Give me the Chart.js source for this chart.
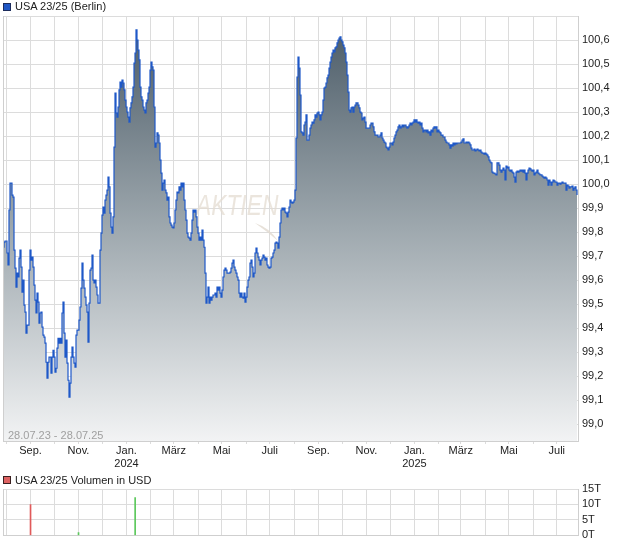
<!DOCTYPE html>
<html>
<head>
<meta charset="utf-8">
<script src="https://cdn.jsdelivr.net/npm/chart.js@4.4.1/dist/chart.umd.min.js"></script>
<style>
  body { margin: 0; background: #fff; }
  #wrap { position: relative; width: 620px; height: 546px; font-family: "Liberation Sans", Arial, sans-serif; }
  #wrap canvas { position: absolute; left: 0; }
  .txt { position: absolute; font-size: 11px; line-height: 13px; color: #222; white-space: nowrap; }
  .box { position: absolute; left: 3px; width: 6px; height: 6px; border: 1px solid #1c2c5c; }
</style>
</head>
<body>
<div id="wrap">
  <canvas id="price" width="620" height="470" style="top:0"></canvas>
  <canvas id="volume" width="620" height="76" style="top:470px"></canvas>
  <div class="box" style="top:3px;background:#1f56c4"></div>
  <div class="txt" style="left:15px;top:0">USA 23/25 (Berlin)</div>
  <div class="txt" style="left:8px;top:429px;color:#a0a0a0">28.07.23 - 28.07.25</div>
  <div class="box" style="top:476px;background:#de6262;border-color:#3a2020"></div>
  <div class="txt" style="left:15px;top:474px">USA 23/25 Volumen in USD</div>
</div>
<script>
const startDate = '2023-07-28';
const endDate = '2025-07-28';

// closing prices, evenly spaced over the period
const prices = [
  99.737, 99.758, 99.763, 99.763, 99.713, 99.663, 99.892, 100.004, 100.004, 99.954,
  99.946, 99.725, 99.650, 99.571, 99.629, 99.613, 99.692, 99.725, 99.654, 99.550,
  99.600, 99.496, 99.467, 99.379, 99.413, 99.413, 99.642, 99.725, 99.683, 99.696,
  99.654, 99.579, 99.517, 99.463, 99.546, 99.508, 99.421, 99.463, 99.467, 99.404,
  99.371, 99.363, 99.338, 99.258, 99.192, 99.258, 99.279, 99.279, 99.213, 99.279,
  99.308, 99.279, 99.217, 99.233, 99.317, 99.358, 99.338, 99.358, 99.338, 99.463,
  99.508, 99.379, 99.279, 99.350, 99.254, 99.183, 99.113, 99.171, 99.279, 99.321,
  99.279, 99.254, 99.238, 99.371, 99.392, 99.392, 99.433, 99.488, 99.567, 99.671,
  99.600, 99.567, 99.529, 99.496, 99.467, 99.342, 99.504, 99.642, 99.650, 99.704,
  99.600, 99.588, 99.600, 99.571, 99.538, 99.504, 99.504, 99.725, 99.796, 99.871,
  99.904, 99.879, 99.933, 99.954, 99.975, 100.029, 99.988, 99.879, 99.821, 99.796,
  99.863, 100.154, 100.379, 100.296, 100.279, 100.321, 100.392, 100.425, 100.404, 100.433,
  100.421, 100.392, 100.350, 100.321, 100.300, 100.279, 100.258, 100.317, 100.338, 100.363,
  100.404, 100.504, 100.546, 100.642, 100.600, 100.558, 100.517, 100.404, 100.363, 100.350,
  100.321, 100.308, 100.296, 100.338, 100.350, 100.379, 100.404, 100.475, 100.508, 100.488,
  100.475, 100.321, 100.154, 100.171, 100.213, 100.204, 100.171, 100.100, 100.046, 99.975,
  100.004, 100.017, 99.975, 99.963, 99.933, 99.946, 99.863, 99.838, 99.829, 99.821,
  99.817, 99.838, 99.892, 99.933, 99.967, 99.963, 99.988, 99.975, 100.004, 99.988,
  100.004, 99.933, 99.892, 99.850, 99.796, 99.779, 99.775, 99.767, 99.796, 99.850,
  99.892, 99.883, 99.892, 99.863, 99.821, 99.796, 99.767, 99.779, 99.767, 99.808,
  99.767, 99.737, 99.629, 99.504, 99.529, 99.571, 99.504, 99.529, 99.517, 99.529,
  99.538, 99.538, 99.546, 99.529, 99.571, 99.558, 99.571, 99.546, 99.529, 99.558,
  99.613, 99.642, 99.650, 99.642, 99.629, 99.629, 99.629, 99.633, 99.650, 99.671,
  99.683, 99.654, 99.642, 99.629, 99.613, 99.600, 99.546, 99.529, 99.546, 99.529,
  99.525, 99.546, 99.508, 99.529, 99.571, 99.600, 99.613, 99.671, 99.683, 99.654,
  99.613, 99.629, 99.713, 99.733, 99.713, 99.696, 99.683, 99.663, 99.683, 99.692,
  99.704, 99.696, 99.683, 99.692, 99.663, 99.654, 99.650, 99.654, 99.692, 99.696,
  99.713, 99.725, 99.754, 99.758, 99.754, 99.733, 99.779, 99.838, 99.892, 99.900,
  99.892, 99.900, 99.883, 99.879, 99.863, 99.883, 99.904, 99.933, 99.925, 99.921,
  99.925, 99.933, 99.975, 100.192, 100.446, 100.529, 100.483, 100.371, 100.217, 100.213,
  100.204, 100.246, 100.258, 100.288, 100.183, 100.183, 100.204, 100.233, 100.246, 100.258,
  100.254, 100.267, 100.288, 100.279, 100.296, 100.300, 100.288, 100.267, 100.288, 100.300,
  100.350, 100.400, 100.404, 100.421, 100.442, 100.454, 100.483, 100.508, 100.529, 100.546,
  100.558, 100.550, 100.567, 100.571, 100.588, 100.600, 100.608, 100.613, 100.600, 100.592,
  100.579, 100.567, 100.546, 100.508, 100.454, 100.383, 100.308, 100.300, 100.317, 100.321,
  100.300, 100.321, 100.329, 100.338, 100.338, 100.329, 100.317, 100.300, 100.296, 100.267,
  100.275, 100.279, 100.258, 100.233, 100.233, 100.233, 100.233, 100.246, 100.254, 100.254,
  100.238, 100.217, 100.204, 100.204, 100.204, 100.196, 100.196, 100.204, 100.213, 100.192,
  100.183, 100.175, 100.171, 100.154, 100.150, 100.142, 100.154, 100.171, 100.171, 100.163,
  100.175, 100.192, 100.204, 100.217, 100.225, 100.238, 100.246, 100.233, 100.238, 100.246,
  100.238, 100.246, 100.246, 100.238, 100.233, 100.238, 100.246, 100.254, 100.246, 100.254,
  100.258, 100.267, 100.258, 100.267, 100.258, 100.254, 100.258, 100.246, 100.254, 100.233,
  100.217, 100.225, 100.225, 100.217, 100.225, 100.213, 100.217, 100.204, 100.225, 100.217,
  100.233, 100.238, 100.233, 100.238, 100.217, 100.225, 100.217, 100.213, 100.204, 100.204,
  100.196, 100.196, 100.183, 100.175, 100.171, 100.171, 100.163, 100.150, 100.163, 100.158,
  100.171, 100.163, 100.171, 100.167, 100.171, 100.171, 100.171, 100.171, 100.175, 100.183,
  100.188, 100.171, 100.171, 100.175, 100.171, 100.175, 100.171, 100.163, 100.150, 100.142,
  100.142, 100.146, 100.138, 100.142, 100.146, 100.142, 100.138, 100.142, 100.133, 100.129,
  100.129, 100.125, 100.129, 100.125, 100.121, 100.113, 100.100, 100.092, 100.088, 100.050,
  100.046, 100.046, 100.042, 100.038, 100.088, 100.088, 100.079, 100.058, 100.050, 100.058,
  100.067, 100.058, 100.017, 100.075, 100.067, 100.071, 100.058, 100.054, 100.058, 100.050,
  100.046, 100.029, 100.008, 100.050, 100.054, 100.050, 100.054, 100.058, 100.054, 100.058,
  100.050, 100.058, 100.046, 100.017, 100.046, 100.058, 100.067, 100.063, 100.058, 100.054,
  100.058, 100.038, 100.046, 100.050, 100.058, 100.046, 100.042, 100.038, 100.038, 100.033,
  100.029, 100.025, 100.029, 100.025, 100.017, 99.996, 100.017, 100.008, 99.996, 100.008,
  100.017, 100.013, 100.008, 100.008, 99.996, 100.004, 100.004, 100.000, 100.004, 100.008,
  100.004, 100.004, 100.004, 99.975, 99.996, 99.992, 99.983, 99.988, 99.988, 99.992,
  99.975, 99.983, 99.988, 99.975, 99.954
];

// volume in thousand USD, split by up / down days
const volUpDates = ['2023-11-01', '2024-01-12'];
const volUpValues = [0.9, 12.2];
const volDownDates = ['2023-09-01'];
const volDownValues = [10];

const monthStarts = [
  '2023-08-01', '2023-09-01', '2023-10-01', '2023-11-01', '2023-12-01', '2024-01-01',
  '2024-02-01', '2024-03-01', '2024-04-01', '2024-05-01', '2024-06-01', '2024-07-01',
  '2024-08-01', '2024-09-01', '2024-10-01', '2024-11-01', '2024-12-01', '2025-01-01',
  '2025-02-01', '2025-03-01', '2025-04-01', '2025-05-01', '2025-06-01', '2025-07-01'
];
const monthLabels = [
  '', 'Sep.', '', 'Nov.', '', ['Jan.', '2024'],
  '', 'März', '', 'Mai', '', 'Juli',
  '', 'Sep.', '', 'Nov.', '', ['Jan.', '2025'],
  '', 'März', '', 'Mai', '', 'Juli'
];
const priceTicks = [99.0, 99.1, 99.2, 99.3, 99.4, 99.5, 99.6, 99.7, 99.8, 99.9,
  100.0, 100.1, 100.2, 100.3, 100.4, 100.5, 100.6, 100.7];
const volTicks = [0, 5, 10, 15];

const dayOf = d => (Date.parse(d) - Date.parse(startDate)) / 86400000;
const totalDays = dayOf(endDate);
const sampleStep = totalDays / prices.length;
const monthDays = monthStarts.map(dayOf);

Chart.defaults.font.family = '"Liberation Sans", Arial, sans-serif';
Chart.defaults.font.size = 11;
Chart.defaults.color = '#222';

const gridColor = '#dcdcdc';
const edgeColor = '#cfcfcf';

// left edge of the plot + faint watermark
const frame = {
  id: 'frame',
  beforeDatasetsDraw(chart, args, opts) {
    if (!opts.mark) return;
    const { ctx } = chart;
    ctx.save();
    ctx.fillStyle = 'rgba(228, 220, 210, 0.75)';
    ctx.translate(196, 215);
    ctx.scale(0.76, 1);
    ctx.font = 'italic 30px "Liberation Sans", Arial, sans-serif';
    ctx.fillText('AKTIEN', 0, 0);
    ctx.restore();
    ctx.save();
    ctx.fillStyle = 'rgba(225, 218, 208, 0.8)';
    ctx.beginPath();
    ctx.moveTo(255, 223);
    ctx.quadraticCurveTo(270, 228, 278, 241);
    ctx.quadraticCurveTo(268, 232, 255, 223);
    ctx.fill();
    ctx.restore();
  },
  afterDraw(chart) {
    const { ctx, chartArea } = chart;
    ctx.save();
    ctx.strokeStyle = edgeColor;
    ctx.lineWidth = 1;
    ctx.beginPath();
    ctx.moveTo(chartArea.left + 0.5, chartArea.top);
    ctx.lineTo(chartArea.left + 0.5, chartArea.bottom);
    ctx.stroke();
    ctx.restore();
  }
};

function fillGradient(context) {
  const { ctx, chartArea } = context.chart;
  if (!chartArea) return null;
  const g = ctx.createLinearGradient(0, chartArea.top, 0, chartArea.bottom);
  g.addColorStop(0, '#495965');
  g.addColorStop(0.5, '#9ea8ae');
  g.addColorStop(1, '#f2f3f4');
  return g;
}

const xMonths = (showLabels) => ({
  type: 'linear',
  min: 0,
  max: totalDays,
  offset: false,
  afterBuildTicks: s => { s.ticks = monthDays.map(v => ({ value: v })); },
  afterFit: s => { s.height = showLabels ? 29 : 0; },
  ticks: {
    display: showLabels,
    autoSkip: false,
    maxRotation: 0,
    padding: 0,
    callback: (v, i) => monthLabels[i]
  },
  grid: { color: gridColor, tickLength: 3, drawTicks: showLabels, offset: false },
  border: { color: edgeColor }
});

new Chart(document.getElementById('price'), {
  type: 'line',
  data: {
    datasets: [{
      data: prices.map((p, i) => ({ x: i * sampleStep, y: p })),
      stepped: true,
      borderColor: '#1e58c8',
      borderWidth: 1.2,
      pointRadius: 0,
      fill: 'start',
      backgroundColor: fillGradient
    }]
  },
  options: {
    responsive: false,
    animation: false,
    layout: { padding: { left: 3, top: 16, right: 0, bottom: 0 } },
    plugins: { legend: { display: false }, tooltip: { enabled: false }, frame: { mark: true } },
    scales: {
      x: xMonths(true),
      y: {
        position: 'right',
        min: 98.93,
        max: 100.7,
        afterBuildTicks: s => { s.ticks = priceTicks.map(v => ({ value: v })); },
        afterFit: s => { s.width = 42; },
        ticks: {
          padding: 4,
          autoSkip: false,
          callback: v => v > 100.65 ? '' : v.toFixed(1).replace('.', ',')
        },
        grid: { color: gridColor, drawTicks: false },
        border: { color: edgeColor }
      }
    }
  },
  plugins: [frame]
});

new Chart(document.getElementById('volume'), {
  type: 'bar',
  data: {
    datasets: [{
      data: volDownDates.map((d, i) => ({ x: dayOf(d), y: volDownValues[i] })),
      backgroundColor: '#e05a5a',
      barThickness: 1,
      grouped: false
    }, {
      data: volUpDates.map((d, i) => ({ x: dayOf(d), y: volUpValues[i] })),
      backgroundColor: '#5cc85c',
      barThickness: 1,
      grouped: false
    }]
  },
  options: {
    responsive: false,
    animation: false,
    layout: { padding: { left: 3, top: 19, right: 0, bottom: 9 } },
    plugins: { legend: { display: false }, tooltip: { enabled: false }, frame: { mark: false } },
    scales: {
      x: xMonths(false),
      y: {
        position: 'right',
        min: 0,
        max: 15,
        afterBuildTicks: s => { s.ticks = volTicks.map(v => ({ value: v })); },
        afterFit: s => { s.width = 42; },
        ticks: { padding: 4, autoSkip: false, callback: v => v + 'T' },
        grid: { color: gridColor, drawTicks: false },
        border: { color: edgeColor }
      }
    }
  },
  plugins: [frame]
});
</script>
</body>
</html>
